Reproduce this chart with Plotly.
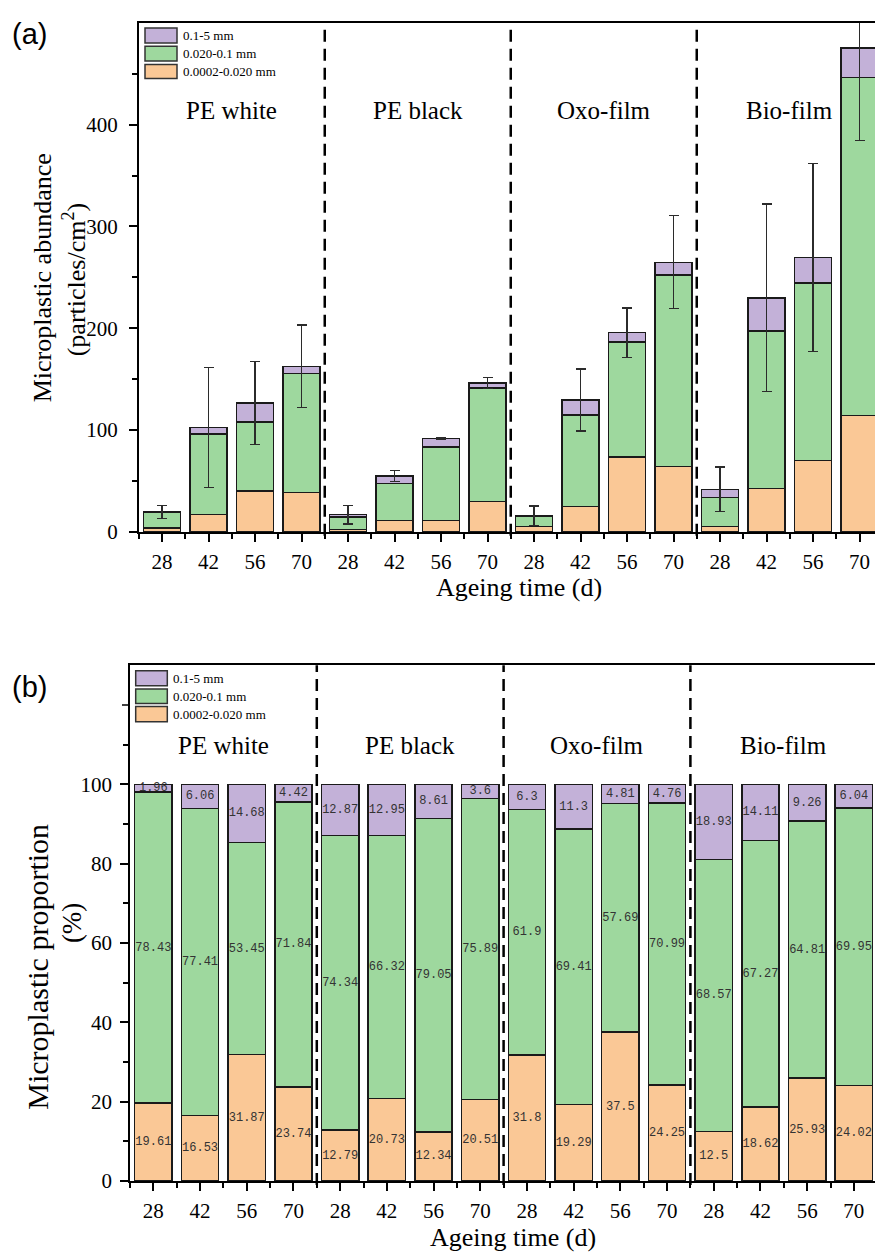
import plotly.graph_objects as go

W, H = 875, 1260

# ---------------- data ----------------
groups = ["PE white", "PE black", "Oxo-film", "Bio-film"]
days = ["28", "42", "56", "70"]
size_classes = ["0.0002-0.020 mm", "0.020-0.1 mm", "0.1-5 mm"]   # bottom -> top
colors = ["#FAC896", "#9ED89E", "#C3B1D8"]

# (a) abundance, particles/cm2
abund_small = [3.8, 16.9, 40.3, 38.6, 2.2, 11.4, 11.3, 30.0, 5.1, 25.0, 73.4, 64.2, 5.2, 42.8, 69.9, 114.1]
abund_mid = [15.2, 79.3, 67.7, 116.8, 12.6, 36.3, 72.3, 111.1, 9.8, 89.9, 112.9, 188.0, 28.7, 154.6, 174.7, 332.2]
abund_large = [0.4, 6.3, 18.6, 7.2, 2.2, 7.1, 7.9, 5.3, 1.0, 14.6, 9.4, 12.6, 7.9, 32.4, 25.0, 28.7]
abund_err = [6.3, 59.0, 40.6, 40.6, 9.3, 5.3, 0.8, 5.4, 9.5, 30.5, 24.2, 45.6, 22.0, 92.2, 92.4, 90.6]

# (b) proportion, %
prop_small = [19.61, 16.53, 31.87, 23.74, 12.79, 20.73, 12.34, 20.51, 31.8, 19.29, 37.5, 24.25, 12.5, 18.62, 25.93, 24.02]
prop_mid = [78.43, 77.41, 53.45, 71.84, 74.34, 66.32, 79.05, 75.89, 61.9, 69.41, 57.69, 70.99, 68.57, 67.27, 64.81, 69.95]
prop_large = [1.96, 6.06, 14.68, 4.42, 12.87, 12.95, 8.61, 3.6, 6.3, 11.3, 4.81, 4.76, 18.93, 14.11, 9.26, 6.04]

abund_ticks = [0, 100, 200, 300, 400]
prop_ticks = [0, 20, 40, 60, 80, 100]

x_labels = [d for g in groups for d in days]
xpos = list(range(len(x_labels)))
n_days = len(days)

SERIF = "Liberation Serif"
SANS = "Liberation Sans"


def px(xp):
    return xp / W


def py(yp):
    return 1 - yp / H


fig = go.Figure()

# ---------------- panel (a) ----------------
for i, (vals, name) in enumerate(zip([abund_small, abund_mid, abund_large], size_classes)):
    kw = {}
    if i == 2:
        kw["error_y"] = dict(type="data", array=abund_err, visible=True,
                             color="#2b2b2b", thickness=1.2, width=5)
    fig.add_trace(go.Bar(
        x=xpos, y=vals, name=name, xaxis="x", yaxis="y",
        marker=dict(color=colors[i], line=dict(color="#1a1a1a", width=1.5)),
        width=0.8, showlegend=False, **kw))

# ---------------- panel (b) ----------------
for i, (vals, name) in enumerate(zip([prop_small, prop_mid, prop_large], size_classes)):
    fig.add_trace(go.Bar(
        x=xpos, y=vals, name=name, xaxis="x2", yaxis="y2",
        marker=dict(color=colors[i], line=dict(color="#1a1a1a", width=1.5)),
        width=0.8, showlegend=False,
        text=[str(v) for v in vals], textposition="inside",
        insidetextanchor="middle", textangle=0, constraintext="none",
        textfont=dict(family="Liberation Mono", size=12, color="#333333")))

# geometry (pixels)
A_left, A_top, A_bot = 138.75, 23, 537
B_left, B_top, B_bot = 130, 671.7, 1192.3
A_step, B_step = 46.5, 46.7

common_x = dict(
    tickmode="array", tickvals=xpos, ticktext=x_labels,
    ticks="outside", ticklen=8, tickwidth=1.5, tickcolor="black",
    showline=True, linewidth=1.5, linecolor="black", mirror=True,
    showgrid=False, zeroline=False,
    tickfont=dict(family=SERIF, size=21, color="black"),
    ticklabelstandoff=2,
    minor=dict(tickmode="array", tickvals=[i - 0.5 for i in range(len(xpos) + 1)],
               ticks="outside", ticklen=5, tickwidth=1.5, tickcolor="black", showgrid=False),
)
common_y = dict(
    ticks="outside", ticklen=8, tickwidth=1.5, tickcolor="black",
    showline=True, linewidth=1.5, linecolor="black", mirror=False,
    showgrid=False, zeroline=False,
    tickfont=dict(family=SERIF, size=21, color="black"),
)

fig.update_layout(
    width=W, height=H, margin=dict(l=0, r=0, t=0, b=0),
    paper_bgcolor="white", plot_bgcolor="white",
    barmode="stack", showlegend=False,
    xaxis=dict(domain=[px(A_left), 1], range=[-0.5, (W - A_left) / A_step - 0.5],
               anchor="y", **common_x),
    yaxis=dict(domain=[py(A_bot), py(A_top)], range=[0, 500], anchor="x",
               tickmode="array", tickvals=abund_ticks,
               ticktext=[str(v) for v in abund_ticks],
               ticklabelstandoff=7,
               minor=dict(tickmode="array", tickvals=[50, 150, 250, 350, 450],
                          ticks="outside", ticklen=5, tickwidth=1.5, tickcolor="black", showgrid=False),
               **common_y),
    xaxis2=dict(domain=[px(B_left), 1], range=[-0.5, (W - B_left) / B_step - 0.5],
                anchor="y2", **common_x),
    yaxis2=dict(domain=[py(B_bot), py(B_top)], range=[0, 130], anchor="x2",
                tickmode="array", tickvals=prop_ticks,
                ticktext=[str(v) for v in prop_ticks],
                ticklabelstandoff=4,
                minor=dict(tickmode="array", tickvals=[10, 30, 50, 70, 90, 110],
                           ticks="outside", ticklen=5, tickwidth=1.5, tickcolor="black", showgrid=False),
                **common_y),
)

shapes = []
annotations = []

# unlabelled major tick at 120 on the proportion axis
shapes.append(dict(type="line", xref="paper", yref="y2", x0=px(B_left - 8), x1=px(B_left),
                   y0=120, y1=120, line=dict(color="black", width=1.5)))

# group separators (dashed)
for g in range(1, len(groups)):
    xb = g * n_days - 0.5
    shapes.append(dict(type="line", xref="x", yref="paper", x0=xb, x1=xb,
                       y0=py(A_bot + 4), y1=py(A_top),
                       line=dict(color="black", width=2.5, dash="12px,7px")))
    shapes.append(dict(type="line", xref="x2", yref="paper", x0=xb, x1=xb,
                       y0=py(B_bot + 4), y1=py(B_top),
                       line=dict(color="black", width=2.5, dash="12px,7px")))

# group labels
for g, name in enumerate(groups):
    xc = g * n_days + (n_days - 1) / 2
    annotations.append(dict(text=name, xref="x", yref="paper", x=xc, y=py(112),
                            showarrow=False, font=dict(family=SERIF, size=25, color="black"),
                            xanchor="center", yanchor="middle"))
    annotations.append(dict(text=name, xref="x2", yref="paper", x=xc, y=py(753),
                            showarrow=False, font=dict(family=SERIF, size=25, color="black"),
                            xanchor="center", yanchor="middle"))

# manual legends (top -> bottom: large, mid, small)
legend_order = [2, 1, 0]
for (bx0, bx1, rows) in [
    (145, 177, [(28.3, 43.3), (46.7, 61.7), (65.0, 79.3)]),
    (135.7, 167.3, [(677.3, 692.3), (695.7, 710.3), (713.3, 728.7)]),
]:
    for k, (y0, y1) in zip(legend_order, rows):
        shapes.append(dict(type="rect", xref="paper", yref="paper",
                           x0=px(bx0), x1=px(bx1), y0=py(y1), y1=py(y0),
                           fillcolor=colors[k], line=dict(color="#333333", width=1.5)))
        annotations.append(dict(text=size_classes[k], xref="paper", yref="paper",
                                x=px(bx1 + 4), y=py((y0 + y1) / 2), xanchor="left", yanchor="middle",
                                showarrow=False, font=dict(family=SERIF, size=13, color="black")))

# axis titles
annotations += [
    dict(text="Microplastic abundance", xref="paper", yref="paper", x=px(42), y=py(281),
         textangle=-90, showarrow=False, xanchor="center", yanchor="middle",
         font=dict(family=SERIF, size=26, color="black")),
    dict(text="(particles/cm<sup>2</sup>)", xref="paper", yref="paper", x=px(74), y=py(283),
         textangle=-90, showarrow=False, xanchor="center", yanchor="middle",
         font=dict(family=SERIF, size=26, color="black")),
    dict(text="Ageing time (d)", xref="paper", yref="paper", x=px(519), y=py(593),
         showarrow=False, xanchor="center", yanchor="middle",
         font=dict(family=SERIF, size=26, color="black")),
    dict(text="Microplastic proportion", xref="paper", yref="paper", x=px(38), y=py(976),
         textangle=-90, showarrow=False, xanchor="center", yanchor="middle",
         font=dict(family=SERIF, size=30, color="black")),
    dict(text="(%)", xref="paper", yref="paper", x=px(72), y=py(932),
         textangle=-90, showarrow=False, xanchor="center", yanchor="middle",
         font=dict(family=SERIF, size=27, color="black")),
    dict(text="Ageing time (d)", xref="paper", yref="paper", x=px(513), y=py(1249),
         showarrow=False, xanchor="center", yanchor="middle",
         font=dict(family=SERIF, size=26, color="black")),
    dict(text="(a)", xref="paper", yref="paper", x=px(10), y=py(34),
         showarrow=False, xanchor="left", yanchor="middle",
         font=dict(family=SANS, size=29, color="black")),
    dict(text="(b)", xref="paper", yref="paper", x=px(10), y=py(694),
         showarrow=False, xanchor="left", yanchor="middle",
         font=dict(family=SANS, size=29, color="black")),
]

fig.update_layout(shapes=shapes, annotations=annotations)
fig.write_html("out.html")
